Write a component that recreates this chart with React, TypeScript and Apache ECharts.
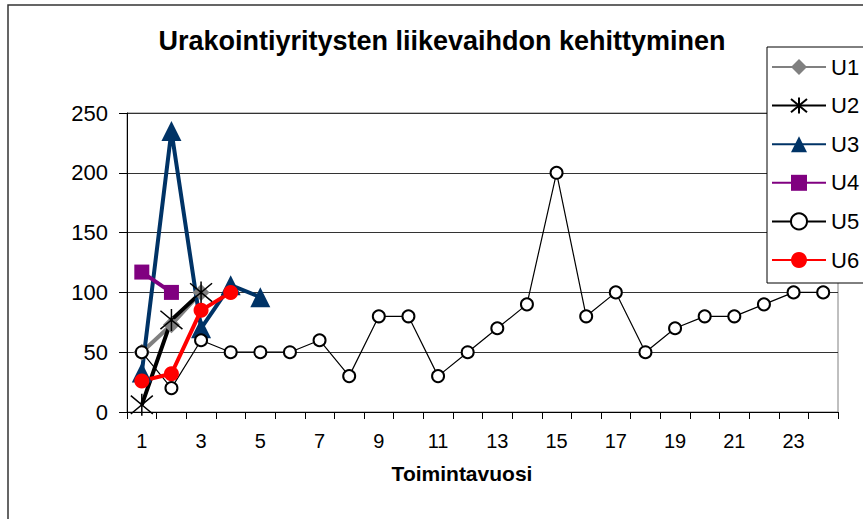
import React, { useEffect, useRef } from 'react';
import * as echarts from 'echarts';

const titleText = 'Urakointiyritysten liikevaihdon kehittyminen';
const xAxisName = 'Toimintavuosi';
const categories = ['1', '2', '3', '4', '5', '6', '7', '8', '9', '10', '11', '12', '13', '14', '15', '16', '17', '18', '19', '20', '21', '22', '23', '24'];
const seriesNames = ['U1', 'U2', 'U3', 'U4', 'U5', 'U6'];
const u1 = [50, 73, 100];
const u2 = [6, 77, 100];
const u3 = [33, 235, 70, 106, 96];
const u4 = [117, 100];
const u5 = [50, 20, 60, 50, 50, 50, 60, 30, 80, 80, 30, 50, 70, 90, 200, 80, 100, 50, 70, 80, 80, 90, 100, 100];
const u6 = [26, 32, 85, 100];
const yMin = 0;
const yMax = 250;
const yStep = 50;

const FONT = '"Liberation Sans", Arial, sans-serif';
const asterisk = 'path://M0,0L20,20M20,0L0,20M10,-2L10,22';

export default function App() {
  const ref = useRef<HTMLDivElement>(null);
  useEffect(() => {
    if (!ref.current) return;
    const chart = echarts.init(ref.current, undefined, { renderer: 'svg' });
    const thick = (name: string, data: number[], color: string, symbol: string, size: number, extra: any = {}) => ({
      name,
      type: 'line',
      data,
      symbol,
      symbolSize: size,
      showAllSymbol: true,
      lineStyle: { color, width: 4 },
      itemStyle: { color, ...extra },
      emphasis: { disabled: true },
    });
    chart.setOption({
      animation: false,
      textStyle: { fontFamily: FONT },
      grid: { left: 127, right: 25, top: 113, bottom: 107, show: true, borderColor: '#808080', borderWidth: 1 },
      legend: {
        orient: 'vertical',
        left: 767,
        top: 47,
        padding: [9, 12, 12, 4],
        itemWidth: 54,
        itemHeight: 20,
        itemGap: 16.6,
        borderColor: '#000',
        borderWidth: 1,
        backgroundColor: '#fff',
        selectedMode: false,
        data: seriesNames,
        textStyle: { fontFamily: FONT, fontSize: 22, color: '#000' },
      },
      xAxis: {
        type: 'category',
        data: categories,
        boundaryGap: true,
        axisLine: { lineStyle: { color: '#000', width: 1 } },
        axisTick: { show: true, interval: 0, length: 7, lineStyle: { color: '#000' } },
        axisLabel: { interval: 1, fontSize: 20, lineHeight: 16, margin: 21, color: '#000', fontFamily: FONT },
        splitLine: { show: false },
      },
      yAxis: {
        type: 'value',
        min: yMin,
        max: yMax,
        interval: yStep,
        axisLine: { show: true, lineStyle: { color: '#000', width: 1 } },
        axisTick: { show: true, length: 8, lineStyle: { color: '#000' } },
        axisLabel: { fontSize: 22, margin: 19, color: '#000', fontFamily: FONT },
        splitLine: { show: true, lineStyle: { color: '#333', width: 1 } },
      },
      graphic: [
        { type: 'rect', shape: { x: 8, y: 5, width: 880, height: 540 }, style: { fill: 'none', stroke: '#333', lineWidth: 1.5 }, z: 0, silent: true },
        { type: 'text', x: 442, y: 41, style: { text: titleText, font: `bold 27px ${FONT}`, fill: '#000', textAlign: 'center', textVerticalAlign: 'middle' } },
        { type: 'text', x: 462, y: 473, style: { text: xAxisName, font: `bold 21px ${FONT}`, lineHeight: 18, fill: '#000', textAlign: 'center', textVerticalAlign: 'middle' } },
      ],
      series: [
        thick('U1', u1, '#808080', 'diamond', 17),
        thick('U2', u2, '#000000', asterisk, 22, { borderColor: '#000', borderWidth: 1.5 }),
        thick('U3', u3, '#003366', 'triangle', 20),
        thick('U4', u4, '#800080', 'rect', 15),
        {
          name: 'U5',
          type: 'line',
          data: u5,
          symbol: 'emptyCircle',
          symbolSize: 12,
          showAllSymbol: true,
          lineStyle: { color: '#000', width: 1.2 },
          itemStyle: { color: '#000', borderWidth: 1.3 },
          emphasis: { disabled: true },
        },
        thick('U6', u6, '#ff0000', 'circle', 15),
      ],
    });
    return () => chart.dispose();
  }, []);
  return <div ref={ref} style={{ position: 'absolute', left: 0, top: 0, width: 863, height: 519, background: '#fff' }} />;
}
